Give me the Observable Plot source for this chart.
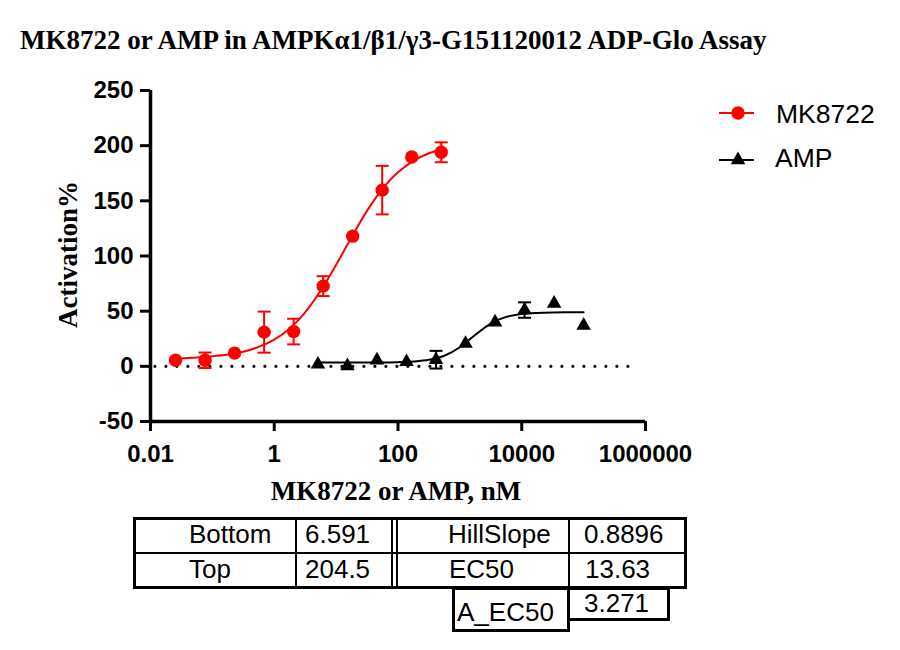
<!DOCTYPE html>
<html>
<head>
<meta charset="utf-8">
<script src="https://cdn.jsdelivr.net/npm/d3@7"></script>
<script src="https://cdn.jsdelivr.net/npm/@observablehq/plot@0.6"></script>
<style>
  body { margin: 0; background: #fff; }
  #page { position: relative; width: 900px; height: 650px; background: #fff; overflow: hidden; }
  .abs { position: absolute; white-space: nowrap; line-height: 1; }
  .serif { font-family: "Liberation Serif", "Times New Roman", serif; font-weight: bold; color: #000; }
  .sans { font-family: "Liberation Sans", Arial, sans-serif; color: #000; }
  .ln { position: absolute; background: #000; }
  .bx { position: absolute; border: 3px solid #000; box-sizing: border-box; }
</style>
</head>
<body>
<div id="page"></div>
<script>
// ---- data ----
const concMK  = [0.0254, 0.0762, 0.2286, 0.686, 2.058, 6.173, 18.52, 55.56, 166.7, 500];
const actMK   = [5.5, 5.5, 12, 31, 31.5, 72.7, 118, 159.7, 189.7, 194];
const errMK   = [0, 7, 0, 18.6, 11.6, 9, 0, 22, 0, 9];

const concAMP = [5.08, 15.24, 45.7, 137.2, 411.5, 1235, 3704, 11111, 33333, 100000];
const actAMP  = [1.8, 0.3, 5.5, 4, 6, 20.6, 40, 51, 57, 37];
const errAMP  = [0, 0, 0, 0, 8, 0, 0, 7, 0, 0];

// fitted curves
const fitMKx  = [0.0254, 0.0562, 0.1, 0.178, 0.316, 0.562, 1, 1.78, 3.16, 5.62, 10, 17.8, 31.6, 56.2, 100, 178, 316, 500];
const fitMKy  = [7.3, 8.1, 9.1, 10.7, 13.3, 17.6, 24.2, 34.4, 49.0, 68.5, 92.0, 117.2, 140.9, 160.8, 175.8, 186.2, 193.1, 196.8];
const fitAMPx = [5.08, 10, 31.6, 100, 178, 316, 562, 1000, 1778, 3162, 5623, 10000, 17783, 31623, 100000];
const fitAMPy = [3.5, 3.5, 3.54, 3.81, 4.37, 5.87, 9.6, 17.3, 28.6, 38.8, 44.8, 47.4, 48.4, 48.8, 49.0];

const xTicks = [0.01, 1, 100, 10000, 1000000];
const yTicks = [-50, 0, 50, 100, 150, 200, 250];

const seriesNames = ["MK8722", "AMP"];
const seriesColors = ["#ff0000", "#000000"];

const tableLabels = ["Bottom", "Top", "HillSlope", "EC50", "A_EC50"];
const tableValues = ["6.591", "204.5", "0.8896", "13.63", "3.271"];

const titleText = "MK8722 or AMP in AMPKα1/β1/γ3-G151120012 ADP-Glo Assay";
const xLabel = "MK8722 or AMP, nM";
const yLabel = "Activation%";

// ---- build tables ----
const mk = concMK.map((x, i) => ({x, y: actMK[i], e: errMK[i]}));
const amp = concAMP.map((x, i) => ({x, y: actAMP[i], e: errAMP[i]}));
const mkFit = fitMKx.map((x, i) => ({x, y: fitMKy[i]}));
const ampFit = fitAMPx.map((x, i) => ({x, y: fitAMPy[i]}));
const capsOf = arr => arr.filter(d => d.e > 0).flatMap(d => [{x: d.x, y: d.y + d.e}, {x: d.x, y: d.y - d.e}]);

const hline = {
  draw(ctx, size) {
    const w = Math.sqrt(size / Math.PI);
    ctx.moveTo(-w, 0);
    ctx.lineTo(w, 0);
  }
};

const page = document.getElementById("page");
const tickFont = "Liberation Sans, Arial, sans-serif";

const chart = Plot.plot({
  width: 900,
  height: 460,
  marginLeft: 150,
  marginRight: 255,
  marginTop: 30,
  marginBottom: 99,
  style: {background: "transparent", overflow: "visible"},
  x: {type: "log", domain: [0.01, 1e6], label: null},
  y: {domain: [-50, 250], label: null},
  marks: [
    Plot.ruleY([0], {x1: 0.012, x2: 6.5e5, stroke: "#000", strokeWidth: 3.2, strokeDasharray: "0 11", strokeLinecap: "round"}),
    Plot.axisX({ticks: xTicks, tickFormat: d => String(d), tickSize: 10, tickPadding: 13, strokeWidth: 3,
      fontSize: 24, fontWeight: "bold", fontFamily: tickFont, fill: "#000", label: null}),
    Plot.axisY({ticks: yTicks, tickFormat: d => String(d), tickSize: 10, tickPadding: 7, strokeWidth: 3,
      fontSize: 24, fontWeight: "bold", fontFamily: tickFont, fill: "#000", label: null}),
    Plot.ruleY([-50], {stroke: "#000", strokeWidth: 3.5}),
    Plot.ruleX([0.01], {stroke: "#000", strokeWidth: 3.5}),
    Plot.line(mkFit, {x: "x", y: "y", stroke: seriesColors[0], strokeWidth: 2, curve: "catmull-rom"}),
    Plot.line(ampFit, {x: "x", y: "y", stroke: seriesColors[1], strokeWidth: 2, curve: "catmull-rom"}),
    Plot.ruleX(mk.filter(d => d.e > 0), {x: "x", y1: d => d.y - d.e, y2: d => d.y + d.e, stroke: seriesColors[0], strokeWidth: 2}),
    Plot.dot(capsOf(mk), {x: "x", y: "y", symbol: hline, r: 6.5, stroke: seriesColors[0], strokeWidth: 2, fill: "none"}),
    Plot.ruleX(amp.filter(d => d.e > 0), {x: "x", y1: d => d.y - d.e, y2: d => d.y + d.e, stroke: seriesColors[1], strokeWidth: 2}),
    Plot.dot(capsOf(amp), {x: "x", y: "y", symbol: hline, r: 6.5, stroke: seriesColors[1], strokeWidth: 2, fill: "none"}),
    Plot.dot(mk, {x: "x", y: "y", r: 6.7, fill: seriesColors[0], stroke: "none"}),
    Plot.dot(amp, {x: "x", y: "y", symbol: "triangle", r: 5.4, fill: seriesColors[1], stroke: "none"})
  ]
});
chart.style.position = "absolute";
chart.style.left = "0px";
chart.style.top = "60px";
// make the axis ticks as heavy as the reference's
chart.querySelectorAll('[aria-label="x-axis tick"], [aria-label="y-axis tick"]').forEach(g => {
  g.setAttribute("stroke-width", 3);
  g.setAttribute("stroke", "#000");
});

function text(str, cls, fs, left, baseline, extra) {
  const el = document.createElement("div");
  el.className = "abs " + cls;
  el.textContent = str;
  el.style.fontSize = fs + "px";
  const asc = cls === "serif" ? 0.8375 : 0.8465;
  el.style.left = left + "px";
  el.style.top = (baseline - asc * fs) + "px";
  if (extra) Object.assign(el.style, extra);
  page.appendChild(el);
  return el;
}
function line(l, t, w, h) {
  const el = document.createElement("div");
  el.className = "ln";
  Object.assign(el.style, {left: l + "px", top: t + "px", width: w + "px", height: h + "px"});
  page.appendChild(el);
}
function box(l, t, w, h) {
  const el = document.createElement("div");
  el.className = "bx";
  Object.assign(el.style, {left: l + "px", top: t + "px", width: w + "px", height: h + "px"});
  page.appendChild(el);
}

// title
text(titleText, "serif", 27, 20, 49.3);

page.appendChild(chart);

// axis labels
text(xLabel, "serif", 27, 196, 501, {width: "400px", textAlign: "center"});
{
  const el = document.createElement("div");
  el.className = "abs serif";
  el.textContent = yLabel;
  Object.assign(el.style, {fontSize: "27px", width: "300px", height: "27px", lineHeight: "27px", textAlign: "center",
    left: (68 - 150) + "px", top: (254 - 13.5) + "px", transform: "rotate(-90deg)", transformOrigin: "150px 13.5px"});
  page.appendChild(el);
}

// legend
{
  const ns = "http://www.w3.org/2000/svg";
  const lg = document.createElementNS(ns, "svg");
  lg.setAttribute("width", 50); lg.setAttribute("height", 80);
  Object.assign(lg.style, {position: "absolute", left: "712px", top: "93px"});
  const ys = [20, 67];
  ys.forEach((y, i) => {
    const l = document.createElementNS(ns, "line");
    l.setAttribute("x1", 7); l.setAttribute("x2", 42); l.setAttribute("y1", y); l.setAttribute("y2", y);
    l.setAttribute("stroke", seriesColors[i]); l.setAttribute("stroke-width", 2);
    lg.appendChild(l);
  });
  const c = document.createElementNS(ns, "circle");
  c.setAttribute("cx", 26); c.setAttribute("cy", ys[0]); c.setAttribute("r", 6.7); c.setAttribute("fill", seriesColors[0]);
  lg.appendChild(c);
  const p = document.createElementNS(ns, "path");
  p.setAttribute("d", d3.symbol(d3.symbolTriangle, Math.PI * 5.4 * 5.4)());
  p.setAttribute("transform", `translate(26,${ys[1]})`);
  p.setAttribute("fill", seriesColors[1]);
  lg.appendChild(p);
  page.appendChild(lg);
  text(seriesNames[0], "sans", 26.5, 776, 123.3);
  text(seriesNames[1], "sans", 26.5, 775, 167.3);
}

// parameter table
box(133, 517, 554, 72);
line(133, 552, 554, 2);
line(295, 517, 2, 72);
line(391, 517, 2, 72);
line(396, 517, 2, 72);
line(568, 517, 2, 72);
box(452, 587, 118, 45);
box(567, 587, 103, 34);

const fsT = 26;
text(tableLabels[0], "sans", fsT, 189, 543);
text(tableValues[0], "sans", fsT, 305, 543);
text(tableLabels[2], "sans", fsT, 448, 543);
text(tableValues[2], "sans", fsT, 584, 543);
text(tableLabels[1], "sans", fsT, 189, 578);
text(tableValues[1], "sans", fsT, 305, 578);
text(tableLabels[3], "sans", fsT, 449, 578);
text(tableValues[3], "sans", fsT, 585, 578);
text(tableLabels[4], "sans", fsT, 457, 621);
text(tableValues[4], "sans", fsT, 584, 612);
</script>
</body>
</html>
